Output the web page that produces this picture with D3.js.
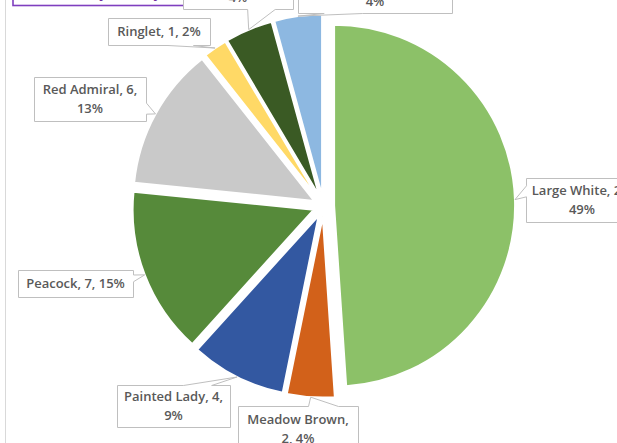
<!DOCTYPE html>
<html>
<head>
<meta charset="utf-8">
<script src="https://cdn.jsdelivr.net/npm/d3@7/dist/d3.min.js"></script>
<style>
  html, body { margin: 0; padding: 0; background: #ffffff; }
  svg { display: block; }
  .lbl { font-family: "Open Sans", "Noto Sans", sans-serif; font-size: 13px; font-weight: 600; fill: #595959; }
</style>
</head>
<body>
<svg id="chart" width="617" height="443"></svg>
<script>
// Butterfly counts
const species = ["Large White", "Meadow Brown", "Painted Lady", "Peacock",
                 "Red Admiral", "Ringlet", "Small White", "Small Tortoiseshell"];
const counts = [23, 2, 4, 7, 6, 1, 2, 2];
const sliceColours = ["#8cc168", "#d2611a", "#3358a1", "#568a3a",
                      "#c9c9c9", "#ffd966", "#3a5a24", "#8db8e1"];
const chartTitle = "Butterfly Survey";

// Label box placement: left, top, width, height, wrap width
const labelBoxes = [
  [526, 178, 112, 44, 126],
  [238, 406, 120, 46, 108],
  [117, 385, 113, 42, 112],
  [18, 270, 115, 27, 140],
  [34, 77, 112, 44, 114],
  [108, 18, 102, 27, 120],
  [183, -33, 110, 42, 108],
  [298, -29, 154, 42, 150]
];

const svg = d3.select("#chart");
const cx = 323.5, cy = 206, radius = 181, explode = 10.6;

// chart area frame and title box (mostly outside the visible window)
svg.append("rect")
  .attr("x", 5.5).attr("y", -60).attr("width", 800).attr("height", 700)
  .attr("fill", "none").attr("stroke", "#d9d9d9").attr("stroke-width", 1);
svg.append("rect")
  .attr("x", 13).attr("y", -40).attr("width", 179).attr("height", 45.5)
  .attr("fill", "#ffffff").attr("stroke", "#7f3fbf").attr("stroke-width", 1.6);
svg.append("text")
  .attr("x", 102.5).attr("y", -3)
  .attr("text-anchor", "middle")
  .attr("font-family", "Open Sans, sans-serif").attr("font-size", 16)
  .attr("fill", "#7030a0")
  .text(chartTitle);

const total = d3.sum(counts);
const pie = d3.pie().sort(null).value(d => d);
const arcs = pie(counts);
const arc = d3.arc().innerRadius(0).outerRadius(radius);
const rimArc = d3.arc().innerRadius(radius).outerRadius(radius);

const mid = d => (d.startAngle + d.endAngle) / 2;
const shift = d => [explode * Math.sin(mid(d)), -explode * Math.cos(mid(d))];

const g = svg.append("g").attr("transform", `translate(${cx},${cy})`);
g.selectAll("path.slice")
  .data(arcs)
  .join("path")
  .attr("class", "slice")
  .attr("transform", d => `translate(${shift(d)[0]},${shift(d)[1]})`)
  .attr("d", arc)
  .attr("fill", (d, i) => sliceColours[i])
  .attr("stroke", "#ffffff")
  .attr("stroke-width", 2);

// Rectangle callout with a wedge towards the tip point
function calloutPath(x, y, w, h, tx, ty) {
  const hc = x + w / 2, vc = y + h / 2;
  const dx = tx - hc, dy = ty - vc;
  const dq = dx * h / w;
  const pts = [];
  if (Math.abs(dy) - Math.abs(dq) <= 0) {
    const y1 = y + h * (dy > 0 ? 7 : 2) / 12, y2 = y + h * (dy > 0 ? 10 : 5) / 12;
    if (dx > 0) {
      pts.push([x, y], [x + w, y], [x + w, y1], [tx, ty], [x + w, y2], [x + w, y + h], [x, y + h]);
    } else {
      pts.push([x, y], [x + w, y], [x + w, y + h], [x, y + h], [x, y2], [tx, ty], [x, y1]);
    }
  } else {
    const x1 = x + w * (dx > 0 ? 7 : 2) / 12, x2 = x + w * (dx > 0 ? 10 : 5) / 12;
    if (dy > 0) {
      pts.push([x, y], [x + w, y], [x + w, y + h], [x2, y + h], [tx, ty], [x1, y + h], [x, y + h]);
    } else {
      pts.push([x, y], [x1, y], [tx, ty], [x2, y], [x + w, y], [x + w, y + h], [x, y + h]);
    }
  }
  return "M" + pts.map(p => p.join(",")).join("L") + "Z";
}

const labels = svg.append("g");
arcs.forEach((d, i) => {
  const [bx, by, bw, bh, wrapW] = labelBoxes[i];
  const rim = rimArc.centroid(d);
  const s = shift(d);
  const tx = cx + rim[0] + s[0], ty = cy + rim[1] + s[1];
  labels.append("path")
    .attr("d", calloutPath(bx + 0.5, by + 0.5, bw, bh, tx, ty))
    .attr("fill", "#ffffff")
    .attr("stroke", "#bfbfbf")
    .attr("stroke-width", 1);

  const pct = Math.round(counts[i] / total * 100);
  const words = `${species[i]}, ${counts[i]}, ${pct}%`.split(" ");
  const t = labels.append("text").attr("class", "lbl").attr("text-anchor", "middle");
  // greedy wrap to the allowed width
  const lines = [];
  let line = [];
  const probe = labels.append("text").attr("class", "lbl");
  words.forEach(wd => {
    const trial = line.concat(wd).join(" ");
    probe.text(trial);
    if (line.length && probe.node().getComputedTextLength() > wrapW) {
      lines.push(line.join(" "));
      line = [wd];
    } else {
      line.push(wd);
    }
  });
  lines.push(line.join(" "));
  probe.remove();
  const lh = 19;
  const y0 = by + bh / 2 - (lines.length - 1) * lh / 2;
  lines.forEach((ln, k) => {
    t.append("tspan")
      .attr("x", bx + bw / 2)
      .attr("y", y0 + k * lh)
      .attr("dy", "0.35em")
      .text(ln);
  });
});
</script>
</body>
</html>
